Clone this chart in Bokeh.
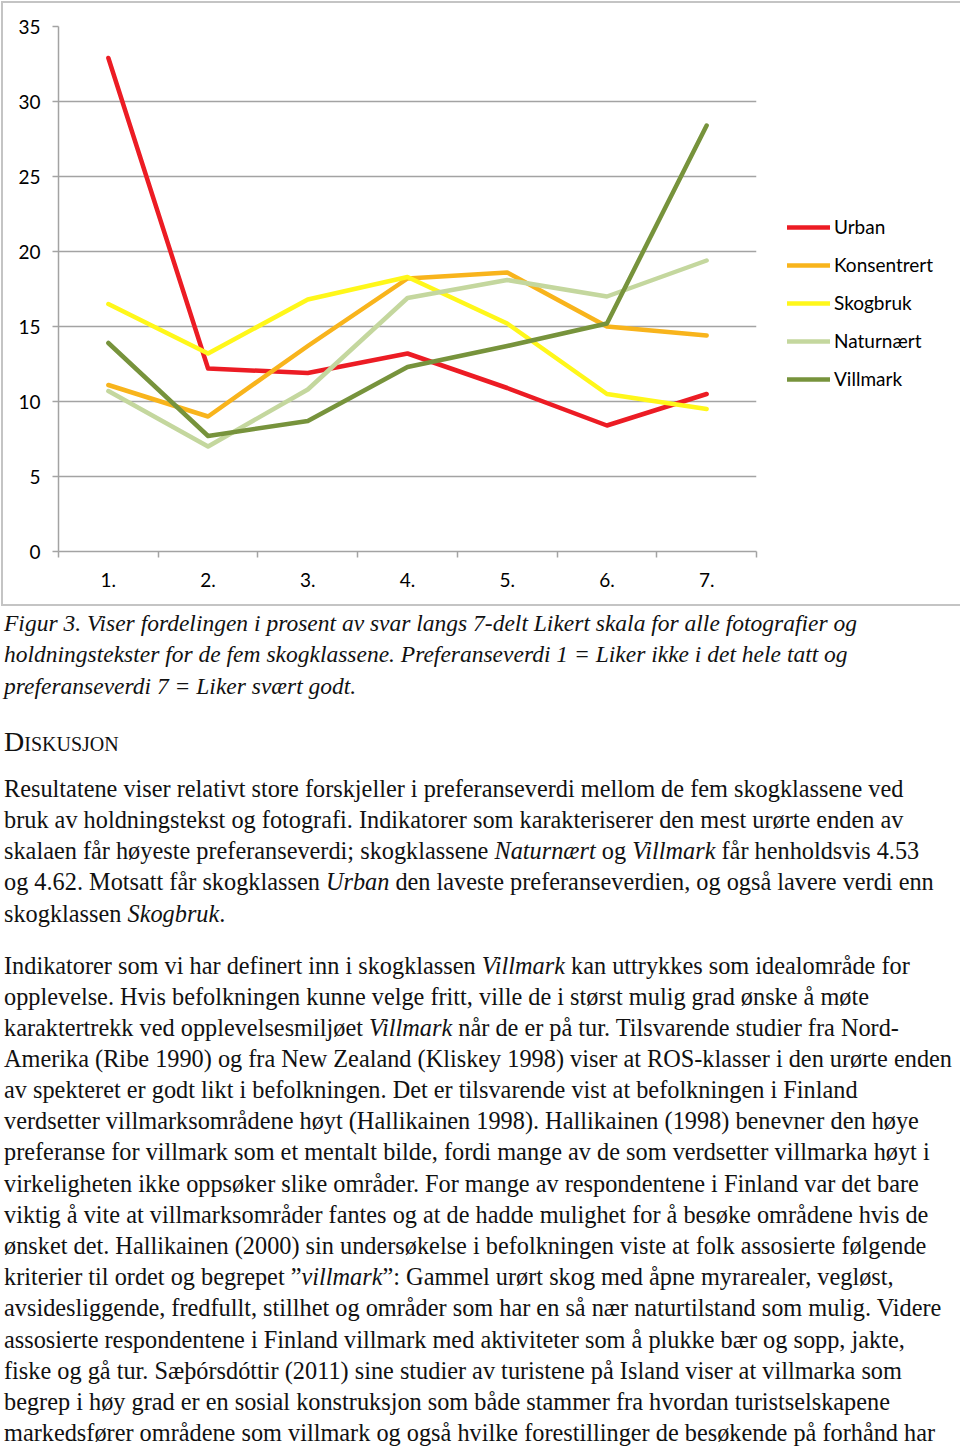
from bokeh.plotting import figure
from bokeh.models import Range1d, FixedTicker, Legend, LegendItem, Div
from bokeh.layouts import column
from bokeh.embed import file_html
from bokeh.resources import INLINE

# ---------------- data ----------------
categories = ["1.", "2.", "3.", "4.", "5.", "6.", "7."]
series_names = ["Urban", "Konsentrert", "Skogbruk", "Naturnært", "Villmark"]
urban = [32.9, 12.2, 11.9, 13.2, 10.9, 8.4, 10.5]
konsentrert = [11.1, 9.0, 13.7, 18.2, 18.6, 15.0, 14.4]
skogbruk = [16.5, 13.2, 16.8, 18.3, 15.2, 10.5, 9.5]
naturnaert = [10.7, 7.0, 10.8, 16.9, 18.1, 17.0, 19.4]
villmark = [13.9, 7.7, 8.7, 12.3, 13.7, 15.2, 28.4]
y_ticks = [0, 5, 10, 15, 20, 25, 30, 35]

series_values = [urban, konsentrert, skogbruk, naturnaert, villmark]
colors = ["#EC1C24", "#F8B41C", "#FFF71A", "#C4D79E", "#77933C"]

xs = list(range(1, len(categories) + 1))

GRID = "#a3a3a3"
p = figure(frame_width=698, frame_height=525, output_backend="svg", toolbar_location=None,
           x_range=Range1d(0.5, 7.5), y_range=Range1d(0, 35),
           min_border_left=55, min_border_right=197, min_border_top=23,
           min_border_bottom=53)
p.outline_line_color = None
p.background_fill_color = "white"
p.border_fill_color = "white"
p.margin = (3, 3, 4, 3)
p.styles = {"box-shadow": "0 0 0 2px #c4c4c4"}

p.xgrid.grid_line_color = None
p.ygrid.grid_line_color = GRID
p.ygrid.grid_line_width = 1.5

p.yaxis.ticker = FixedTicker(ticks=y_ticks, minor_ticks=[])
p.xaxis.ticker = FixedTicker(ticks=xs, minor_ticks=[x - 0.5 for x in xs] + [xs[-1] + 0.5])
p.xaxis.major_label_overrides = {x: c for x, c in zip(xs, categories)}

for ax in (p.xaxis[0], p.yaxis[0]):
    ax.axis_line_color = GRID
    ax.axis_line_width = 1.5
    ax.major_label_text_font = "Lato"
    ax.major_label_text_font_size = "19px"
    ax.major_label_text_color = "black"
    ax.major_tick_line_color = GRID
    ax.major_tick_line_width = 1.5
    ax.minor_tick_line_color = GRID
    ax.minor_tick_line_width = 1.5

p.yaxis.major_tick_out = 6
p.yaxis.major_tick_in = 0
p.yaxis.minor_tick_out = 0
p.yaxis.major_label_standoff = 12
p.xaxis.major_tick_out = 0
p.xaxis.major_tick_in = 0
p.xaxis.minor_tick_out = 6
p.xaxis.minor_tick_in = 0
p.xaxis.major_label_standoff = 15

items = []
for name, vals, col in zip(series_names, series_values, colors):
    r = p.line(xs, vals, line_color=col, line_width=4.5, line_cap="round", line_join="round")
    items.append(LegendItem(label=name, renderers=[r]))

legend = Legend(items=items, location=(31, 161), orientation="vertical",
                glyph_width=43, glyph_height=20, label_height=20, spacing=15,
                label_standoff=4, padding=0, margin=0,
                label_text_font="Lato", label_text_font_size="19px",
                label_text_color="black", border_line_color=None,
                background_fill_alpha=0)
p.add_layout(legend, "right")

# ---------------- text below ----------------
caption_lines = [
    "Figur 3. Viser fordelingen i prosent av svar langs 7-delt Likert skala for alle fotografier og",
    "holdningstekster for de fem skogklassene. Preferanseverdi 1 = Liker ikke i det hele tatt og",
    "preferanseverdi 7 = Liker svært godt.",
]
heading = "Diskusjon"
para1 = [
    "Resultatene viser relativt store forskjeller i preferanseverdi mellom de fem skogklassene ved",
    "bruk av holdningstekst og fotografi. Indikatorer som karakteriserer den mest urørte enden av",
    "skalaen får høyeste preferanseverdi; skogklassene <i>Naturnært</i> og <i>Villmark</i> får henholdsvis 4.53",
    "og 4.62. Motsatt får skogklassen <i>Urban</i> den laveste preferanseverdien, og også lavere verdi enn",
    "skogklassen <i>Skogbruk</i>.",
]
para2 = [
    "Indikatorer som vi har definert inn i skogklassen <i>Villmark</i> kan uttrykkes som idealområde for",
    "opplevelse. Hvis befolkningen kunne velge fritt, ville de i størst mulig grad ønske å møte",
    "karaktertrekk ved opplevelsesmiljøet <i>Villmark</i> når de er på tur. Tilsvarende studier fra Nord-",
    "Amerika (Ribe 1990) og fra New Zealand (Kliskey 1998) viser at ROS-klasser i den urørte enden",
    "av spekteret er godt likt i befolkningen. Det er tilsvarende vist at befolkningen i Finland",
    "verdsetter villmarksområdene høyt (Hallikainen 1998). Hallikainen (1998) benevner den høye",
    "preferanse for villmark som et mentalt bilde, fordi mange av de som verdsetter villmarka høyt i",
    "virkeligheten ikke oppsøker slike områder. For mange av respondentene i Finland var det bare",
    "viktig å vite at villmarksområder fantes og at de hadde mulighet for å besøke områdene hvis de",
    "ønsket det. Hallikainen (2000) sin undersøkelse i befolkningen viste at folk assosierte følgende",
    "kriterier til ordet og begrepet ”<i>villmark</i>”: Gammel urørt skog med åpne myrarealer, vegløst,",
    "avsidesliggende, fredfullt, stillhet og områder som har en så nær naturtilstand som mulig. Videre",
    "assosierte respondentene i Finland villmark med aktiviteter som å plukke bær og sopp, jakte,",
    "fiske og gå tur. Sæþórsdóttir (2011) sine studier av turistene på Island viser at villmarka som",
    "begrep i høy grad er en sosial konstruksjon som både stammer fra hvordan turistselskapene",
    "markedsfører områdene som villmark og også hvilke forestillinger de besøkende på forhånd har",
]

TOP = 608
LH = 30
def line_div(txt, center, style):
    top = center - TOP - LH / 2
    return (f'<div style="position:absolute;left:4px;top:{top}px;height:{LH}px;'
            f'line-height:{LH}px;white-space:nowrap;{style}">{txt}</div>')

body_style = "font-family:'Liberation Serif';font-size:24.3px;color:#111;"
cap_style = "font-family:'Liberation Serif';font-size:23.5px;font-style:italic;color:#111;"
head_style = "font-family:'Liberation Serif';font-size:28px;font-variant:small-caps;color:#111;"

html = []
for t, c in zip(caption_lines, [623, 654, 686]):
    html.append(line_div(t, c, cap_style))
html.append(line_div(heading, 742, head_style))
for t, c in zip(para1, [789, 820, 851, 882, 914]):
    html.append(line_div(t, c, body_style))
p2c = [966, 997, 1028, 1059, 1090, 1121, 1152, 1184, 1215, 1246, 1277, 1308, 1340, 1371, 1402, 1433]
for t, c in zip(para2, p2c):
    html.append(line_div(t, c, body_style))

div = Div(text='<div style="position:relative;width:960px;height:840px;">' + "".join(html) + "</div>",
          width=960, height=840, margin=0)

layout = column(p, div, spacing=0, margin=0)
open("out.html", "w").write(file_html(layout, INLINE))
